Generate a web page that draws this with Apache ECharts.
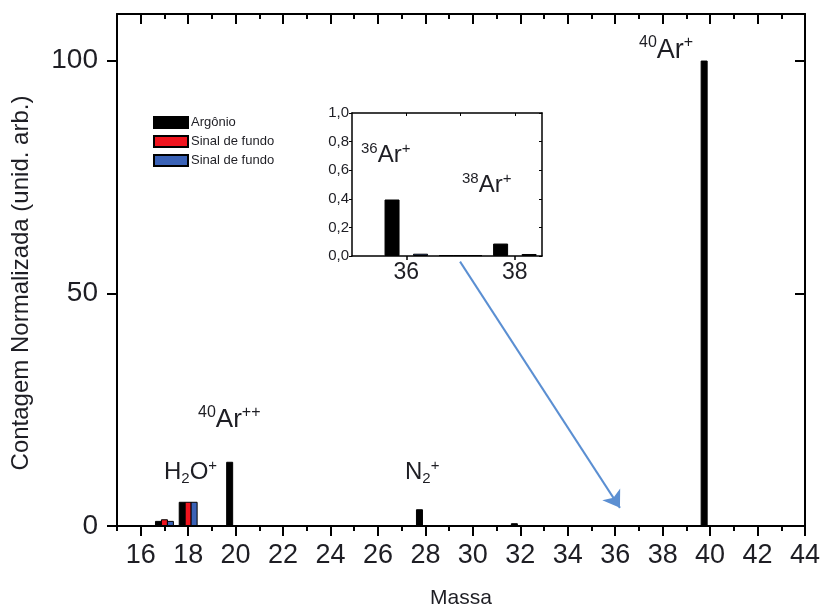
<!DOCTYPE html>
<html>
<head>
<meta charset="utf-8">
<script src="https://cdn.jsdelivr.net/npm/echarts@6/dist/echarts.min.js"></script>
<style>
  html, body { margin: 0; padding: 0; background: #fff; }
  #chart { width: 824px; height: 614px; }
</style>
</head>
<body>
<div id="chart"></div>
<script>
// Mass spectrum: normalized counts per mass (unid. arb.)
const massArgon = [17, 18, 20, 28, 32, 40];
const countArgon = [1.1, 5.2, 13.8, 3.6, 0.6, 100];
const massBgA = [17, 18];
const countBgA = [1.45, 5.2];
const massBgB = [17, 18];
const countBgB = [1.1, 5.2];

// Detail of the 36Ar / 38Ar region
const detailMassArgon = [36, 37, 38];
const detailArgon = [0.395, 0.006, 0.087];
const detailMassBgA = [37];
const detailBgA = [0.006];
const detailMassBgB = [36, 37, 38];
const detailBgB = [0.016, 0.006, 0.014];

const xTickLabels = [16, 18, 20, 22, 24, 26, 28, 30, 32, 34, 36, 38, 40, 42, 44];
const yTickLabels = [0, 50, 100];
const detailXLabels = [36, 38];

// Arrow from the detail panel down to the 36-38 region (data units)
const arrowFrom = [29.46, 56.8];
const arrowTo = [36.2, 3.9];

const seriesNames = ['Argônio', 'Sinal de fundo (a)', 'Sinal de fundo (b)'];
const colors = ['#000000', '#f0141e', '#3a62b6'];

const pairs = (xs, ys) => xs.map((x, i) => [x, ys[i]]);

const FONT = 'Liberation Sans, Arial, sans-serif';
const TXT = '#1e1e24';
const AX = '#000';

const rich = (big, small) => ({
  big: { fontSize: big, lineHeight: big + 4, fontFamily: FONT, color: TXT },
  sup: { fontSize: small, lineHeight: small + 2, verticalAlign: 'top', fontFamily: FONT, color: TXT },
  sub: { fontSize: small, lineHeight: small + 2, verticalAlign: 'bottom', fontFamily: FONT, color: TXT }
});

const label = (left, top, text, big, small) => ({
  type: 'text', left: left, top: top, z: 50,
  style: { text: text, rich: rich(big, small), fontFamily: FONT, fill: TXT }
});

const chart = echarts.init(document.getElementById('chart'), null, { renderer: 'canvas' });

const barStyle = (i) => ({ color: colors[i], borderColor: '#000', borderWidth: 1 });

const option = {
  backgroundColor: '#fff',
  animation: false,
  textStyle: { fontFamily: FONT },
  legend: {
    data: seriesNames,
    orient: 'vertical',
    left: 148, top: 111,
    itemWidth: 34, itemHeight: 11, itemGap: 6,
    icon: 'rect',
    textStyle: { fontSize: 13, fontFamily: FONT, color: TXT, padding: [0, 0, 0, -2] },
    formatter: (n) => n.replace(/ \([ab]\)$/, '')
  },
  grid: [
    { left: 117, right: 19, top: 14, bottom: 88 },
    { left: 352, top: 113, width: 190, height: 143, show: true, backgroundColor: '#fff', borderWidth: 0 }
  ],
  xAxis: [
    { // bottom axis, minor ticks + labels
      gridIndex: 0, type: 'value', min: 15, max: 44, interval: 1, position: 'bottom',
      name: 'Massa', nameLocation: 'middle', nameGap: 62,
      nameTextStyle: { fontSize: 21, fontFamily: FONT, color: TXT },
      axisLine: { onZero: false, lineStyle: { color: AX, width: 2 } },
      axisTick: { length: 5, lineStyle: { color: AX, width: 2 } },
      axisLabel: { customValues: xTickLabels, fontSize: 27, margin: 16, color: TXT, fontFamily: FONT },
      splitLine: { show: false }
    },
    { // bottom axis, major ticks
      gridIndex: 0, type: 'value', min: 15, max: 44, interval: 1, position: 'bottom',
      axisLine: { show: false, onZero: false },
      axisTick: { customValues: xTickLabels, length: 10, lineStyle: { color: AX, width: 2 } },
      axisLabel: { show: false }, splitLine: { show: false }
    },
    { // top axis, minor ticks
      gridIndex: 0, type: 'value', min: 15, max: 44, interval: 1, position: 'top',
      axisLine: { onZero: false, lineStyle: { color: AX, width: 2 } },
      axisTick: { inside: true, length: 5, lineStyle: { color: AX, width: 2 } },
      axisLabel: { show: false }, splitLine: { show: false }
    },
    { // top axis, major ticks
      gridIndex: 0, type: 'value', min: 15, max: 44, interval: 1, position: 'top',
      axisLine: { show: false, onZero: false },
      axisTick: { inside: true, customValues: xTickLabels, length: 10, lineStyle: { color: AX, width: 2 } },
      axisLabel: { show: false }, splitLine: { show: false }
    },
    { // detail panel bottom
      gridIndex: 1, type: 'value', min: 35, max: 38.5, interval: 1, position: 'bottom',
      axisLine: { onZero: false, lineStyle: { color: AX, width: 1.5 } },
      axisTick: { customValues: detailXLabels, length: 4, lineStyle: { color: AX, width: 1.5 } },
      axisLabel: { customValues: detailXLabels, fontSize: 23, margin: 5, color: TXT, fontFamily: FONT },
      splitLine: { show: false }
    },
    { // detail panel top
      gridIndex: 1, type: 'value', min: 35, max: 38.5, interval: 1, position: 'top',
      axisLine: { onZero: false, lineStyle: { color: AX, width: 1.5 } },
      axisTick: { inside: true, customValues: [36, 37, 38], length: 3, lineStyle: { color: AX, width: 1 } },
      axisLabel: { show: false }, splitLine: { show: false }
    }
  ],
  yAxis: [
    {
      gridIndex: 0, type: 'value', min: 0, max: 110, interval: 50, position: 'left',
      name: 'Contagem Normalizada (unid. arb.)', nameLocation: 'middle', nameGap: 84,
      nameTextStyle: { fontSize: 24, fontFamily: FONT, color: TXT, padding: [0, 0, 0, -26] },
      axisLine: { onZero: false, lineStyle: { color: AX, width: 2 } },
      axisTick: { customValues: yTickLabels, length: 10, lineStyle: { color: AX, width: 2 } },
      axisLabel: { customValues: yTickLabels, fontSize: 28, margin: 19, color: TXT, fontFamily: FONT },
      splitLine: { show: false }
    },
    {
      gridIndex: 0, type: 'value', min: 0, max: 110, interval: 50, position: 'right',
      axisLine: { onZero: false, lineStyle: { color: AX, width: 2 } },
      axisTick: { inside: true, customValues: yTickLabels, length: 10, lineStyle: { color: AX, width: 2 } },
      axisLabel: { show: false }, splitLine: { show: false }
    },
    {
      gridIndex: 1, type: 'value', min: 0, max: 1, interval: 0.2, position: 'left',
      axisLine: { onZero: false, lineStyle: { color: AX, width: 1.5 } },
      axisTick: { length: 3, lineStyle: { color: AX, width: 1 } },
      axisLabel: {
        fontSize: 15, margin: 3, color: TXT, fontFamily: FONT,
        formatter: (v) => v.toFixed(1).replace('.', ',')
      },
      splitLine: { show: false }
    },
    {
      gridIndex: 1, type: 'value', min: 0, max: 1, interval: 0.2, position: 'right',
      axisLine: { onZero: false, lineStyle: { color: AX, width: 1.5 } },
      axisTick: { inside: true, length: 3, lineStyle: { color: AX, width: 1 } },
      axisLabel: { show: false }, splitLine: { show: false }
    }
  ],
  series: [
    { name: seriesNames[0], type: 'bar', xAxisIndex: 0, yAxisIndex: 0, barWidth: 7, barGap: '-15%',
      itemStyle: barStyle(0), data: pairs(massArgon, countArgon) },
    { name: seriesNames[1], type: 'bar', xAxisIndex: 0, yAxisIndex: 0, barWidth: 7, barGap: '-15%',
      itemStyle: barStyle(1), data: pairs(massBgA, countBgA) },
    { name: seriesNames[2], type: 'bar', xAxisIndex: 0, yAxisIndex: 0, barWidth: 7, barGap: '-15%',
      itemStyle: barStyle(2), data: pairs(massBgB, countBgB) },

    { name: seriesNames[0], type: 'bar', xAxisIndex: 4, yAxisIndex: 2, barWidth: 15, barGap: '-5%', z: 12,
      itemStyle: barStyle(0), data: pairs(detailMassArgon, detailArgon) },
    { name: seriesNames[1], type: 'bar', xAxisIndex: 4, yAxisIndex: 2, barWidth: 15, barGap: '-5%', z: 12,
      itemStyle: barStyle(1), data: pairs(detailMassBgA, detailBgA) },
    { name: seriesNames[2], type: 'bar', xAxisIndex: 4, yAxisIndex: 2, barWidth: 15, barGap: '-5%', z: 12,
      itemStyle: barStyle(2), data: pairs(detailMassBgB, detailBgB) },

    { type: 'lines', coordinateSystem: 'cartesian2d', xAxisIndex: 0, yAxisIndex: 0, z: 20,
      symbol: ['none', 'arrow'], symbolSize: 16,
      lineStyle: { color: '#5b8fd2', width: 2, opacity: 1 },
      data: [{ coords: [arrowFrom, arrowTo] }] }
  ],
  graphic: [
    label(639, 35, '{sup|40}{big|Ar}{sup|+}', 27, 16),
    label(198, 405, '{sup|40}{big|Ar}{sup|++}', 26, 16),
    label(164, 458, '{big|H}{sub|2}{big|O}{sup|+}', 24, 15),
    label(405, 458, '{big|N}{sub|2}{sup|+}', 24, 15),
    label(361, 141, '{sup|36}{big|Ar}{sup|+}', 24, 15),
    label(462, 171, '{sup|38}{big|Ar}{sup|+}', 24, 15)
  ]
};

chart.setOption(option);
</script>
</body>
</html>
